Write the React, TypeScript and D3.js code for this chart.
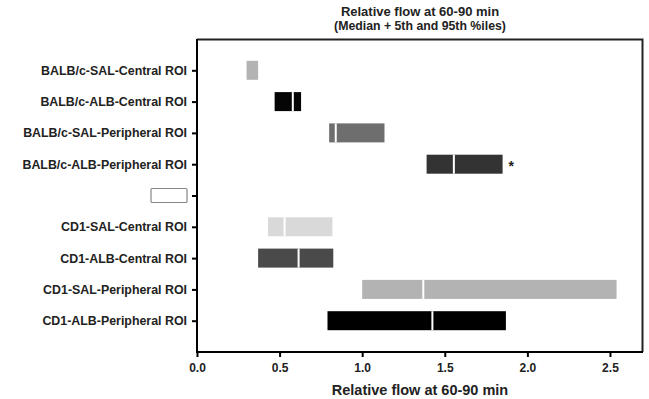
import React, { useRef, useEffect } from "react";
import * as d3 from "d3";

const categories = [
  "BALB/c-SAL-Central ROI",
  "BALB/c-ALB-Central ROI",
  "BALB/c-SAL-Peripheral ROI",
  "BALB/c-ALB-Peripheral ROI",
  "",
  "CD1-SAL-Central ROI",
  "CD1-ALB-Central ROI",
  "CD1-SAL-Peripheral ROI",
  "CD1-ALB-Peripheral ROI",
];
// 5th percentile, median, 95th percentile
const p5 = [0.3, 0.47, 0.8, 1.39, null, 0.43, 0.37, 1.0, 0.79];
const medians = [0.3, 0.58, 0.84, 1.555, null, 0.53, 0.615, 1.37, 1.425];
const p95 = [0.37, 0.63, 1.135, 1.85, null, 0.82, 0.825, 2.54, 1.87];
const fills = ["#b3b3b3", "#050505", "#6e6e6e", "#333333", "none", "#d9d9d9", "#4a4a4a", "#b3b3b3", "#000000"];
const xTicks = [0, 0.5, 1.0, 1.5, 2.0, 2.5];

const App = () => {
  const svgRef = useRef<SVGSVGElement>(null);

  useEffect(() => {
    const width = 649;
    const height = 399;
    const margin = { top: 39, right: 6, bottom: 47, left: 197 };
    const innerW = width - margin.left - margin.right;
    const innerH = height - margin.top - margin.bottom;

    const svg = d3.select(svgRef.current);
    svg.selectAll("*").remove();
    svg.style("font-family", "'Liberation Sans', Arial, sans-serif");

    svg
      .append("text")
      .attr("x", margin.left + innerW / 2)
      .attr("y", 16)
      .attr("text-anchor", "middle")
      .attr("font-size", 13)
      .attr("font-weight", "bold")
      .attr("fill", "#222")
      .text("Relative flow at 60-90 min");
    svg
      .append("text")
      .attr("x", margin.left + innerW / 2)
      .attr("y", 30)
      .attr("text-anchor", "middle")
      .attr("font-size", 12.3)
      .attr("font-weight", "bold")
      .attr("fill", "#222")
      .text("(Median + 5th and 95th %iles)");

    const chart = svg.append("g").attr("transform", `translate(${margin.left}, ${margin.top})`);

    const x = d3.scaleLinear().domain([0, 2.7]).range([0, innerW]);
    const y = d3
      .scalePoint()
      .domain(categories.map((d, i) => String(i)))
      .range([0, innerH])
      .padding(1);

    // frame (top and right)
    chart
      .append("path")
      .attr("d", `M0,0.5H${innerW - 0.5}V${innerH}`)
      .attr("fill", "none")
      .attr("stroke", "#222")
      .attr("stroke-width", 2);

    const xAxis = d3
      .axisBottom(x)
      .tickValues(xTicks)
      .tickFormat(d3.format(".1f"))
      .tickSize(5)
      .tickPadding(6);
    const gx = chart.append("g").attr("transform", `translate(0, ${innerH})`).call(xAxis);
    gx.select(".domain").attr("stroke-width", 2).attr("d", `M-1,0H${innerW}`);
    gx.selectAll(".tick line").attr("stroke-width", 2);
    gx.selectAll(".tick text").attr("font-size", 12).attr("font-weight", "bold").attr("fill", "#222");

    const yAxis = d3
      .axisLeft(y)
      .tickSize(5)
      .tickPadding(5)
      .tickFormat((d) => categories[+d]);
    const gy = chart.append("g").call(yAxis);
    gy.select(".domain").attr("stroke-width", 2).attr("d", `M0,0V${innerH}`);
    gy.selectAll(".tick line").attr("stroke-width", 2);
    gy.selectAll(".tick text").attr("font-size", 12.4).attr("font-weight", "bold").attr("fill", "#222");

    // empty-row marker box
    chart
      .append("rect")
      .attr("x", -46)
      .attr("y", (y("4") as number) - 7)
      .attr("width", 36)
      .attr("height", 14)
      .attr("fill", "white")
      .attr("stroke", "#888")
      .attr("stroke-width", 1.2)
      .attr("rx", 1);

    const barH = 19;
    const rows = categories.map((c, i) => i).filter((i) => p5[i] != null);

    chart
      .selectAll(".bar")
      .data(rows)
      .enter()
      .append("rect")
      .attr("class", "bar")
      .attr("x", (i) => x(p5[i] as number))
      .attr("y", (i) => (y(String(i)) as number) - barH / 2)
      .attr("width", (i) => x(p95[i] as number) - x(p5[i] as number))
      .attr("height", barH)
      .attr("fill", (i) => fills[i]);

    chart
      .selectAll(".med")
      .data(rows.filter((i) => (medians[i] as number) > (p5[i] as number)))
      .enter()
      .append("line")
      .attr("class", "med")
      .attr("x1", (i) => x(medians[i] as number))
      .attr("x2", (i) => x(medians[i] as number))
      .attr("y1", (i) => (y(String(i)) as number) - barH / 2)
      .attr("y2", (i) => (y(String(i)) as number) + barH / 2)
      .attr("stroke", "white")
      .attr("stroke-width", 2);

    chart
      .append("text")
      .attr("x", x(p95[3] as number) + 6)
      .attr("y", (y("3") as number) + 7)
      .attr("font-size", 14)
      .attr("font-weight", "bold")
      .attr("fill", "#222")
      .text("*");

    svg
      .append("text")
      .attr("x", margin.left + innerW / 2)
      .attr("y", 395)
      .attr("text-anchor", "middle")
      .attr("font-size", 14.5)
      .attr("font-weight", "bold")
      .attr("fill", "#222")
      .text("Relative flow at 60-90 min");
  }, []);

  return <svg ref={svgRef} width={649} height={399} style={{ position: "absolute", left: 0, top: 0 }}></svg>;
};

export default App;
